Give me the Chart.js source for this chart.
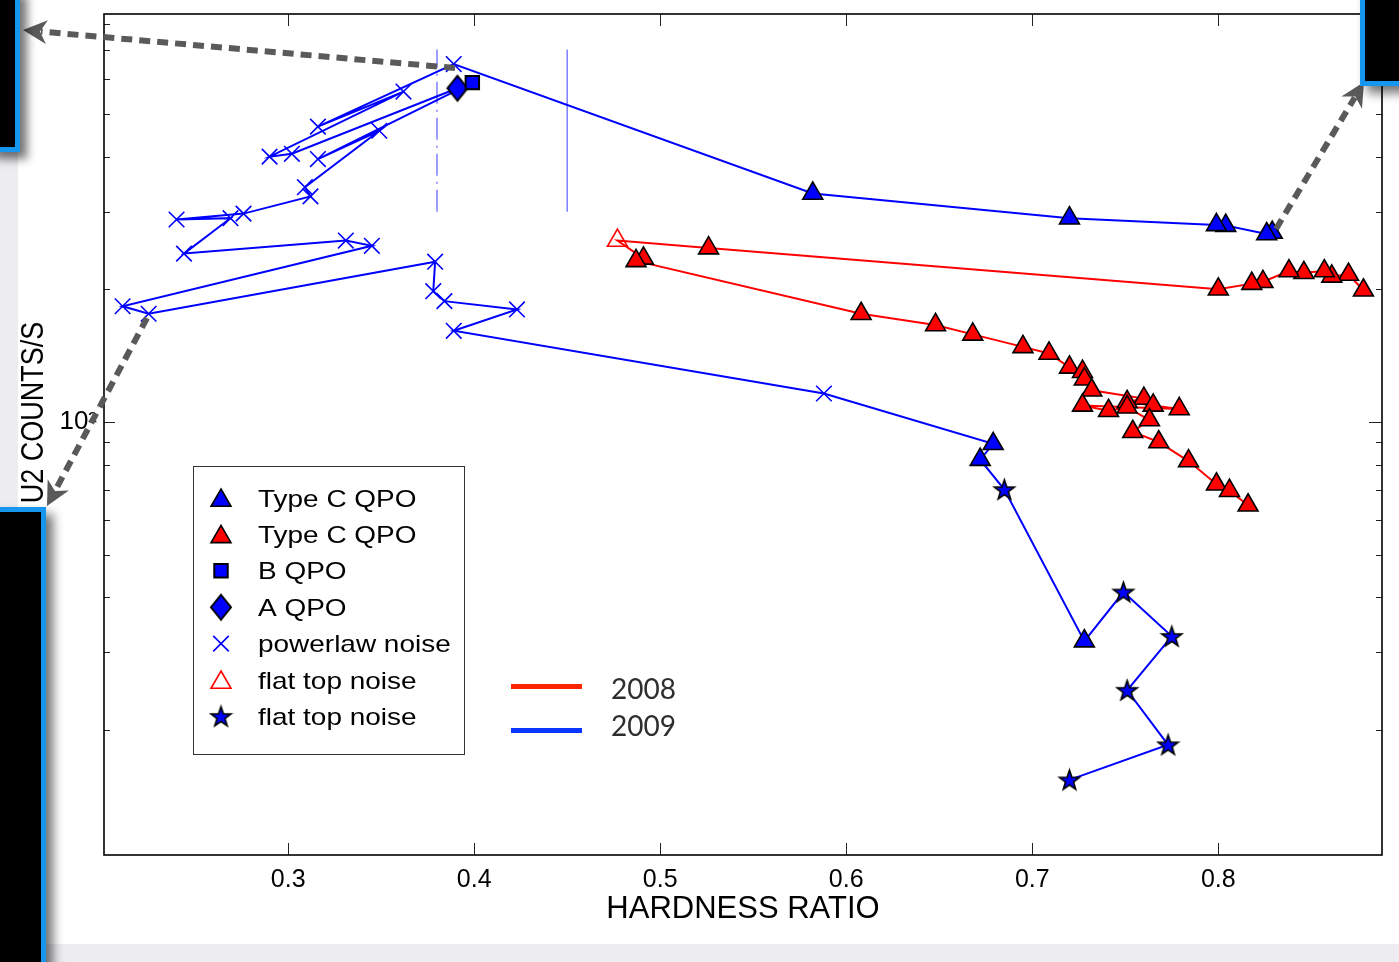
<!DOCTYPE html>
<html><head><meta charset="utf-8">
<script src="https://cdn.jsdelivr.net/npm/chart.js@4.4.1/dist/chart.umd.min.js"></script>
<style>
html,body{margin:0;padding:0;background:#fff;}
#wrap{position:relative;width:1399px;height:962px;overflow:hidden;background:#fff;}
.strip{position:absolute;background:#ededf1;}
#c{position:absolute;left:0;top:0;}
.box{position:absolute;background:#000;border:5px solid #1696ee;box-sizing:border-box;box-shadow:7px 7px 10px rgba(0,0,0,0.55);}
#arrows{position:absolute;left:0;top:0;}
</style></head>
<body><div id="wrap">
<div class="strip" style="left:0;top:944px;width:1399px;height:18px"></div>
<div class="strip" style="left:0;top:150px;width:18px;height:360px"></div>
<canvas id="c" width="1399" height="962"></canvas>
<svg id="arrows" width="1399" height="962" xmlns="http://www.w3.org/2000/svg"></svg>
<div class="box" style="left:-12px;top:-12px;width:32px;height:164px"></div>
<div class="box" style="left:-12px;top:507px;width:58px;height:470px"></div>
<div class="box" style="left:1360px;top:-12px;width:60px;height:98px"></div>
</div>
<script>
// ---------------- data ----------------
const xTickValues = [0.3, 0.4, 0.5, 0.6, 0.7, 0.8];
const yTickValues = [20, 30, 40, 50, 60, 70, 80, 90, 100, 200, 300, 400, 500, 600, 700, 800];
const yLabelValue = 100;
const xAxisTitle = 'HARDNESS RATIO';
const yAxisTitle = 'U2 COUNTS/S';

// 2009 outburst (blue)
const hr2009 = [0.829, 0.826, 0.804, 0.799, 0.720, 0.582, 0.389, 0.316, 0.362, 0.290,
                0.302, 0.391, 0.399, 0.316, 0.349, 0.309, 0.312, 0.276, 0.240, 0.269,
                0.244, 0.331, 0.345, 0.211, 0.225, 0.379, 0.378, 0.384, 0.423, 0.389,
                0.588, 0.679, 0.672, 0.685, 0.728, 0.749, 0.775, 0.751, 0.773, 0.720];
const rate2009 = [269, 267, 279, 280, 290, 330, 649, 468, 562, 400,
                  406, 572, 589, 395, 458, 341, 325, 297, 288, 290,
                  241, 258, 251, 183, 176, 231, 198, 188, 180, 161,
                  116, 89.2, 82.1, 70.2, 31.8, 41.1, 32.6, 24.6, 18.5, 15.4];
const kind2009 = ['triB','triB','triB','triB','triB','triB','x','x','x','x',
                  'x','dia','sq','x','x','x','x','x','x','x',
                  'x','x','x','x','x','x','x','x','x','x',
                  'x','triB','triB','star','triB','star','star','star','star','star'];

// 2008 outburst (red)
const hr2008 = [0.878, 0.870, 0.861, 0.857, 0.846, 0.838, 0.824, 0.818, 0.800, 0.526,
                0.477, 0.491, 0.487, 0.608, 0.648, 0.668, 0.695, 0.709, 0.720, 0.727,
                0.728, 0.732, 0.760, 0.751, 0.765, 0.779, 0.727, 0.741, 0.751, 0.763,
                0.754, 0.768, 0.784, 0.799, 0.806, 0.816];
const rate2008 = [199, 216, 214, 220, 218, 220, 208, 206, 200, 248,
                  258, 235, 232, 176, 166, 158, 148, 143, 133, 130,
                  125, 118, 113, 111, 109, 107, 109, 106, 108, 101,
                  95, 90, 81.5, 72.2, 69.8, 64.7];
const kind2008 = ['triR','triR','triR','triR','triR','triR','triR','triR','triR','triR',
                  'triO','triR','triR','triR','triR','triR','triR','triR','triR','triR',
                  'triR','triR','triR','triR','triR','triR','triR','triR','triR','triR',
                  'triR','triR','triR','triR','triR','triR'];

// reference vertical markers
const refLineHR = [0.38, 0.45];
const refLineRate = [300, 700];

const legendKinds = ['triB','triR','sq','dia','x','triO','star'];
const legendLabels = ['Type C QPO','Type C QPO','B QPO','A QPO','powerlaw noise','flat top noise','flat top noise'];
const yearLabels = ['2008', '2009'];
const yearColors = ['#ff2400', '#0a36ff'];

// ---------------- marker styles ----------------
function starImg(R) {
  const pad = 2, s = Math.ceil(2 * R + 2 * pad);
  const c = document.createElement('canvas'); c.width = s; c.height = s;
  const g = c.getContext('2d'); const cx = s / 2, cy = s / 2 + 0.8;
  g.beginPath();
  for (let k = 0; k < 10; k++) {
    const a = -Math.PI / 2 + k * Math.PI / 5, r = k % 2 ? R * 0.4 : R;
    const px = cx + r * Math.cos(a), py = cy + r * Math.sin(a);
    k ? g.lineTo(px, py) : g.moveTo(px, py);
  }
  g.closePath(); g.fillStyle = '#0000ff'; g.fill();
  g.lineWidth = 1.6; g.strokeStyle = '#000'; g.lineJoin = 'miter'; g.stroke();
  return c;
}
function diamondImg(w, h) {
  const c = document.createElement('canvas'); c.width = w + 4; c.height = h + 4;
  const g = c.getContext('2d');
  g.beginPath(); g.moveTo(2 + w / 2, 2); g.lineTo(2 + w, 2 + h / 2); g.lineTo(2 + w / 2, 2 + h); g.lineTo(2, 2 + h / 2); g.closePath();
  g.fillStyle = '#0000ff'; g.fill(); g.lineWidth = 2; g.strokeStyle = '#000'; g.stroke();
  return c;
}
const STAR = starImg(10.5), DIAMOND = diamondImg(20, 25);
const S = {
  triB: {style: 'triangle', radius: 11.5, bg: '#0000ff', border: '#000', bw: 1.6},
  triR: {style: 'triangle', radius: 11.5, bg: '#ff0000', border: '#000', bw: 1.6},
  triO: {style: 'triangle', radius: 11.5, bg: 'rgba(255,255,255,0)', border: '#ff0000', bw: 1.6},
  sq:   {style: 'rect', radius: 9.5, bg: '#0000ff', border: '#000', bw: 2},
  dia:  {style: DIAMOND, radius: 11, bg: '#0000ff', border: '#000', bw: 2},
  x:    {style: 'crossRot', radius: 11, bg: '#0000ff', border: '#0000ff', bw: 1.6},
  star: {style: STAR, radius: 11, bg: '#0000ff', border: '#000', bw: 1.6}
};

function series(label, hr, rate, kind, color) {
  return {
    label, data: hr.map((x, i) => ({x, y: rate[i]})),
    showLine: true, borderColor: color, borderWidth: 2, tension: 0,
    pointStyle: kind.map(k => S[k].style),
    pointRadius: kind.map(k => S[k].radius),
    pointHoverRadius: kind.map(k => S[k].radius),
    pointBackgroundColor: kind.map(k => S[k].bg),
    pointBorderColor: kind.map(k => S[k].border),
    pointBorderWidth: kind.map(k => S[k].bw)
  };
}
function refLine(xv, dash) {
  return {
    label: 'ref', data: refLineRate.map(y => ({x: xv, y})), showLine: true,
    borderColor: 'rgba(110,110,255,0.85)', borderWidth: 1.6, borderDash: dash, pointRadius: 0
  };
}

const FONT = '"Liberation Sans", Arial, Helvetica, sans-serif';
Chart.defaults.font.family = FONT;

const decor = {
  id: 'decor',
  afterDraw(chart) {
    const {ctx, chartArea: a, scales: {x, y}} = chart;
    const H = Chart.helpers;
    ctx.save();
    const ln = (x1, y1, x2, y2) => { ctx.beginPath(); ctx.moveTo(x1, y1); ctx.lineTo(x2, y2); ctx.stroke(); };
    // inward ticks
    ctx.strokeStyle = '#222'; ctx.lineWidth = 1;
    xTickValues.forEach(v => {
      const px = Math.round(x.getPixelForValue(v)) + 0.5;
      ln(px, a.bottom, px, a.bottom - 12); ln(px, a.top, px, a.top + 12);
    });
    yTickValues.forEach(v => {
      const py = Math.round(y.getPixelForValue(v)) + 0.5, major = v === yLabelValue;
      ln(a.left, py, a.left + (major ? 11 : 6), py); ln(a.right, py, a.right - (major ? 13 : 6), py);
    });
    // frame
    ctx.strokeStyle = '#000'; ctx.lineWidth = 1.6;
    ctx.strokeRect(a.left, a.top, a.right - a.left, a.bottom - a.top);

    // y axis title
    ctx.save();
    ctx.translate(43, 412.5); ctx.scale(1.17, 1); ctx.rotate(-Math.PI / 2);
    ctx.font = '27px ' + FONT; ctx.fillStyle = '#000'; ctx.textAlign = 'center'; ctx.textBaseline = 'alphabetic';
    ctx.fillText(yAxisTitle, 0, 0);
    ctx.restore();

    // marker legend
    ctx.fillStyle = '#fff'; ctx.fillRect(193.5, 466.5, 271, 288);
    ctx.strokeStyle = '#333'; ctx.lineWidth = 1; ctx.strokeRect(193.5, 466.5, 271, 288);
    legendKinds.forEach((k, i) => {
      const st = S[k], yy = 498 + i * 36.4;
      ctx.fillStyle = st.bg; ctx.strokeStyle = st.border; ctx.lineWidth = st.bw;
      H.drawPoint(ctx, {pointStyle: st.style, radius: st.radius, borderWidth: st.bw, rotation: 0}, 221, yy + (st.style === 'triangle' ? 2.5 : 0));
      ctx.save(); ctx.translate(258, yy + 8.6); ctx.scale(1.165, 1);
      ctx.font = '24px ' + FONT; ctx.fillStyle = '#000'; ctx.textAlign = 'left'; ctx.textBaseline = 'alphabetic';
      ctx.fillText(legendLabels[i], 0, 0);
      ctx.restore();
    });

    // year legend
    const yl = [686.5, 730.5], yt = [699, 735.5];
    yearLabels.forEach((t, i) => {
      ctx.strokeStyle = yearColors[i]; ctx.lineWidth = 5; ln(511, yl[i], 582, yl[i]);
      ctx.font = '28px Lato, "Open Sans", sans-serif'; ctx.fillStyle = '#2e2e2e';
      ctx.textAlign = 'left'; ctx.textBaseline = 'alphabetic';
      ctx.fillText(t, 611, yt[i]);
    });
    ctx.restore();
  }
};

const zeroPad = s => { s.paddingTop = 0; s.paddingBottom = 0; s.paddingLeft = 0; s.paddingRight = 0; };

new Chart(document.getElementById('c'), {
  type: 'scatter',
  data: {
    datasets: [
      series('2009', hr2009, rate2009, kind2009, '#0000ff'),
      series('2008', hr2008, rate2008, kind2008, '#ff0000'),
      refLine(refLineHR[0], [22, 6, 2, 6]),
      refLine(refLineHR[1], [])
    ]
  },
  options: {
    responsive: false, animation: false, devicePixelRatio: 1,
    layout: {padding: {left: 0, right: 17, top: 14, bottom: 0}},
    plugins: {legend: {display: false}, tooltip: {enabled: false}},
    events: [],
    scales: {
      x: {
        type: 'linear', min: 0.201, max: 0.888,
        afterBuildTicks: s => { s.ticks = xTickValues.map(v => ({value: v})); },
        afterFit: s => { s.height = 107; zeroPad(s); },
        grid: {display: false, drawTicks: false}, border: {display: false},
        ticks: {font: {size: 25}, color: '#000', padding: 10, autoSkip: false, maxRotation: 0,
                callback: v => Number(v).toFixed(1)},
        title: {display: true, text: xAxisTitle, color: '#000', font: {size: 31}, padding: {top: 0, bottom: 34}}
      },
      y: {
        type: 'logarithmic', min: 10.4, max: 843,
        afterBuildTicks: s => { s.ticks = yTickValues.map(v => ({value: v, major: v === yLabelValue})); },
        afterFit: s => { s.width = 104; zeroPad(s); },
        grid: {display: false, drawTicks: false}, border: {display: false},
        ticks: {font: {size: 26}, color: '#000', padding: 7, autoSkip: false,
                callback: v => (v === yLabelValue ? '10²' : null)}
      }
    }
  },
  plugins: [decor]
});

// ---------------- slide annotations (dashed arrows) ----------------
(function () {
  const svg = document.getElementById('arrows'), NS = 'http://www.w3.org/2000/svg';
  function arrow(x1, y1, tx, ty) {
    const dx = tx - x1, dy = ty - y1, L = Math.hypot(dx, dy), ux = dx / L, uy = dy / L, nx = -uy, ny = ux;
    const hl = 24, hw = 12;
    const line = document.createElementNS(NS, 'line');
    line.setAttribute('x1', x1); line.setAttribute('y1', y1);
    line.setAttribute('x2', tx - ux * (hl - 6)); line.setAttribute('y2', ty - uy * (hl - 6));
    line.setAttribute('stroke', '#5a5a5a'); line.setAttribute('stroke-width', 6); line.setAttribute('stroke-dasharray', '11 7');
    svg.appendChild(line);
    const bx = tx - ux * hl, by = ty - uy * hl, mx = tx - ux * (hl - 7), my = ty - uy * (hl - 7);
    const p = document.createElementNS(NS, 'polygon');
    p.setAttribute('points', [[tx, ty], [bx + nx * hw, by + ny * hw], [mx, my], [bx - nx * hw, by - ny * hw]].map(q => q.join(',')).join(' '));
    p.setAttribute('fill', '#5a5a5a');
    svg.appendChild(p);
  }
  arrow(455, 68, 23, 30);
  arrow(147, 318, 47, 506);
  arrow(1276, 229, 1364, 82);
})();
</script>
</body></html>
